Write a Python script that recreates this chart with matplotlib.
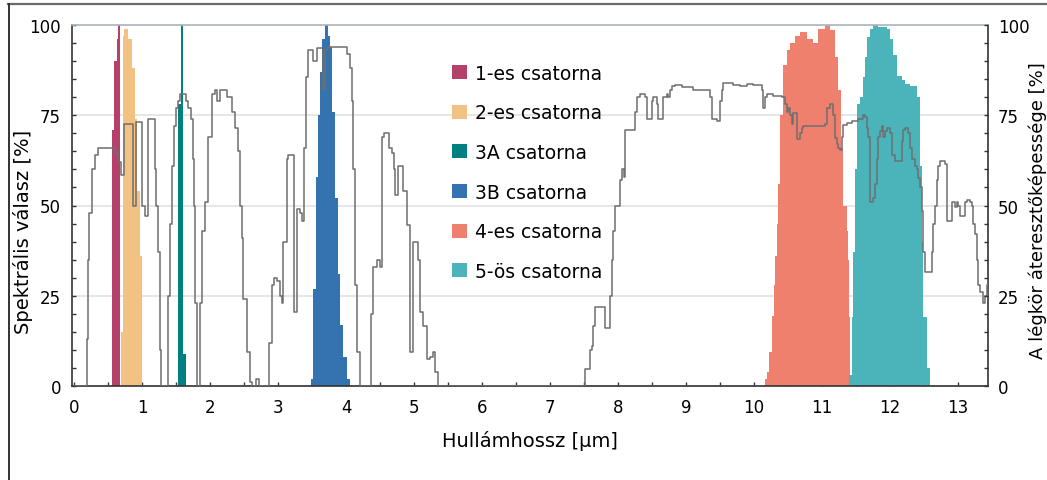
import matplotlib.pyplot as plt
from matplotlib.lines import Line2D
from matplotlib.patches import Patch
from matplotlib.ticker import MultipleLocator

# channel spectral responses: band edges [um] and response [%] (step, held until next edge)
ch1_wl = [0.565, 0.59, 0.625, 0.65, 0.68]
ch1_resp = [71, 90, 96, 100, 0]

ch2_wl = [0.685, 0.715, 0.735, 0.80, 0.855, 0.895, 0.93, 0.97, 1.0]
ch2_resp = [15, 97, 99, 96, 88, 74, 54, 36, 0]

ch3a_wl = [1.535, 1.575, 1.60, 1.645]
ch3a_resp = [78, 100, 9, 0]

ch3b_wl = [3.485, 3.52, 3.555, 3.59, 3.615, 3.643, 3.69, 3.73, 3.765, 3.80,
           3.84, 3.875, 3.915, 3.96, 4.02, 4.06]
ch3b_resp = [2, 27, 58, 75, 87, 96, 100, 97, 94, 76, 52, 31, 17, 8, 2, 0]

ch4_wl = [10.16, 10.19, 10.22, 10.265, 10.294, 10.31, 10.34, 10.353, 10.38, 10.426,
          10.485, 10.53, 10.60, 10.68, 10.78, 10.87, 10.94, 11.04, 11.12, 11.19,
          11.235, 11.28, 11.31, 11.37, 11.38, 11.397, 11.41]
ch4_resp = [2, 4, 9.5, 19.5, 28, 36, 45, 56, 75, 89,
            93, 95, 97, 98, 96, 95, 99, 100, 98.6, 91,
            82, 66, 50, 43, 35, 19, 0]

ch5_wl = [11.397, 11.44, 11.456, 11.485, 11.515, 11.56, 11.60, 11.63, 11.66, 11.706,
          11.75, 11.82, 11.956, 12.0, 12.04, 12.10, 12.18, 12.22, 12.29, 12.40,
          12.44, 12.47, 12.485, 12.54, 12.59]
ch5_resp = [3, 19, 37, 60, 78, 80, 85.5, 91, 96.7, 99,
            100, 99.4, 99, 96, 91.6, 86, 84.7, 83.6, 83, 80,
            61, 40, 19, 5, 0]

# atmospheric transmission [%]
atm_wl = [0.0, 0.18, 0.19, 0.205, 0.22, 0.265, 0.31, 0.35, 0.56, 0.60,
          0.645, 0.69, 0.74, 0.86, 0.915, 1.005, 1.04, 1.09, 1.19, 1.21,
          1.235, 1.26, 1.28,
          1.365, 1.38, 1.41, 1.44, 1.47, 1.50, 1.53, 1.56, 1.65, 1.676,
          1.72, 1.75, 1.765, 1.78, 1.81,
          1.845, 1.855, 1.878, 1.926, 1.975, 2.025, 2.074, 2.10, 2.147, 2.245,
          2.32, 2.37, 2.416, 2.44, 2.466, 2.49, 2.54, 2.59, 2.62, 2.68, 2.72,
          2.85, 2.87, 2.907, 2.94, 2.98, 3.03, 3.054, 3.078, 3.128, 3.15,
          3.235, 3.284, 3.32, 3.35, 3.38, 3.41, 3.446, 3.495, 3.52, 3.57,
          3.666, 3.69, 3.74, 3.985, 4.01, 4.06, 4.084, 4.107, 4.13, 4.157, 4.206,
          4.35, 4.368, 4.40, 4.45, 4.50, 4.525, 4.56, 4.63, 4.67, 4.70,
          4.72, 4.77, 4.82, 4.84, 4.89, 4.94, 4.99, 5.06, 5.088, 5.137,
          5.187, 5.235, 5.284, 5.31, 5.357,
          7.466, 7.515, 7.59, 7.62, 7.63, 7.66, 7.81, 7.88, 7.91, 7.93,
          7.96, 8.03, 8.06, 8.09, 8.10, 8.25, 8.28, 8.32, 8.40, 8.43,
          8.50, 8.51, 8.57, 8.59, 8.66, 8.72, 8.735, 8.76, 8.79, 8.84,
          8.94, 9.10, 9.35, 9.38, 9.456, 9.50, 9.53, 9.54, 9.62, 9.69,
          9.79, 9.90, 9.985, 10.12, 10.13, 10.16, 10.19, 10.28, 10.41, 10.46,
          10.49, 10.50, 10.53, 10.56, 10.57, 10.63, 10.68, 10.71, 10.72, 11.04,
          11.07, 11.12, 11.16, 11.19, 11.22, 11.235, 11.26, 11.29, 11.31, 11.37,
          11.44, 11.53, 11.60, 11.63, 11.66, 11.68, 11.706, 11.75, 11.78, 11.81,
          11.82, 11.85, 11.88, 11.90, 11.93, 11.956, 12.0, 12.03, 12.07, 12.18,
          12.19, 12.22, 12.26, 12.29, 12.32, 12.37, 12.40, 12.41, 12.44, 12.47,
          12.485, 12.51, 12.62, 12.63, 12.66, 12.69, 12.71, 12.735, 12.81, 12.84,
          12.91, 12.96, 12.985, 13.0, 13.03, 13.10, 13.13, 13.18, 13.21, 13.22,
          13.25, 13.28, 13.29, 13.32, 13.37, 13.40, 13.43, 13.44]
atm_tr = [0, 0, 13, 35, 48, 60, 64, 66, 66, 64.5,
          62, 58.5, 72.5, 50, 73, 50, 47, 74, 60, 50,
          37, 10, 0,
          0, 25, 45, 61, 72, 77, 79, 81, 79, 77,
          74, 63, 50, 23, 0,
          0, 23, 43, 51, 69, 81, 82, 79, 82, 80,
          76, 71.6, 65, 50, 41, 24, 9.5, 1, 0, 2, 0,
          0, 12, 28, 30, 29, 25, 23, 40, 63, 64,
          20.6, 49, 48, 45.6, 66, 85.5, 93, 93, 90, 93.7,
          82, 93, 94, 94, 92, 88, 79, 60, 28, 9.5, 0,
          0, 20, 33, 35, 33, 69, 70, 66, 64.5, 60,
          53, 61, 61, 54, 44.6, 9.5, 40, 35, 20.6, 16.7,
          7.5, 8, 9.5, 4, 0,
          0, 4.7, 10, 11, 16.7, 22, 16, 25, 35, 43,
          50, 57, 60, 58, 71, 76, 80, 81, 80, 74,
          79, 80, 78, 74, 80, 81, 80, 82, 83, 83.3,
          82.7, 82, 80, 74, 73.5, 79, 82, 84, 83.8, 83.5,
          83, 83.6, 83.3, 82, 77, 80, 81, 80.4, 80, 78,
          75.8, 77, 75, 72.5, 75.5, 68.5, 70, 71.6, 72, 72.5,
          77, 78, 75, 68.8, 67, 66, 65.5, 69, 72.4, 72.8,
          73.5, 74, 75, 74.5, 71.6, 69, 51, 52, 56, 63,
          69, 70.7, 72, 69, 70.7, 71.6, 70, 64, 62.4, 68,
          71, 71.6, 70, 66, 63, 61, 60, 57.7, 55, 48.5,
          37, 31.7, 37, 45, 50, 57, 61, 62.4, 61.5, 45.6,
          51, 49.5, 51, 50, 47, 51, 51.5, 51, 50, 45,
          42, 35, 28, 26, 23, 25, 28, 30]

channels = [
    ("1-es csatorna", ch1_wl, ch1_resp, "#b5416b"),
    ("2-es csatorna", ch2_wl, ch2_resp, "#f2c283"),
    ("3A csatorna", ch3a_wl, ch3a_resp, "#008080"),
    ("3B csatorna", ch3b_wl, ch3b_resp, "#3572b0"),
    ("4-es csatorna", ch4_wl, ch4_resp, "#ef806e"),
    ("5-ös csatorna", ch5_wl, ch5_resp, "#4bb3ba"),
]

fig = plt.figure(figsize=(10.47, 4.81), dpi=100)
ax = fig.add_axes([72 / 1047, 1 - 387 / 481, 916 / 1047, 361 / 481])

for label, wl, resp, color in channels:
    ax.fill_between(wl, resp, step="post", color=color, lw=0, zorder=2)

ax.plot(atm_wl, atm_tr, drawstyle="steps-post", color="#6e6e6e", lw=1.1, zorder=3)

ax.set_xlim(-0.03, 13.44)
ax.set_ylim(0, 100)
ax.xaxis.set_major_locator(MultipleLocator(1))
ax.xaxis.set_minor_locator(MultipleLocator(0.5))
ax.yaxis.set_major_locator(MultipleLocator(25))
ax.yaxis.set_minor_locator(MultipleLocator(5))
ax.grid(axis="y", color="#e4e4e4", lw=1.3, zorder=0)
ax.set_axisbelow(True)

ax.tick_params(which="both", direction="in", length=3, width=1, color="#333333")
ax.tick_params(axis="x", labelsize=12, pad=9)
ax.tick_params(axis="y", labelsize=12, pad=8)

for side in ["left", "bottom", "right"]:
    ax.spines[side].set_color("#333333")
    ax.spines[side].set_linewidth(1.2)
ax.spines["top"].set_color("#aab4be")
ax.spines["top"].set_linewidth(1.2)

ax.set_xlabel("Hullámhossz [µm]", fontsize=14, labelpad=10)
ax.set_ylabel("Spektrális válasz [%]", fontsize=14)
ax.yaxis.set_label_coords(-0.043, 0.43)

ax2 = ax.twinx()
ax2.set_ylim(0, 100)
ax2.yaxis.set_major_locator(MultipleLocator(25))
ax2.yaxis.set_minor_locator(MultipleLocator(5))
ax2.tick_params(which="both", direction="in", length=3, width=1, color="#333333")
ax2.tick_params(axis="y", labelsize=12, pad=7)
ax2.set_ylabel("A légkör áteresztőképessége [%]", fontsize=13, rotation=90)
ax2.yaxis.set_label_coords(1.0445, 0.4875)
for s in ax2.spines.values():
    s.set_visible(False)

handles = [Patch(facecolor=c, edgecolor="none") for _, _, _, c in channels]
labels = [name for name, _, _, _ in channels]
ax.legend(handles, labels, loc="upper left", bbox_to_anchor=(0.415, 0.893),
          frameon=False, fontsize=13.5, handlelength=0.78, handleheight=0.78,
          handletextpad=0.45, labelspacing=1.1, borderpad=0, borderaxespad=0)

# outer frame lines
fig.add_artist(Line2D([8 / 1047, 1], [1 - 5 / 481, 1 - 5 / 481], color="#6a6a6a", lw=1.6))
fig.add_artist(Line2D([8.5 / 1047, 8.5 / 1047], [0, 1 - 5 / 481], color="#333333", lw=1.4))

fig.savefig("out.png", dpi=100)
